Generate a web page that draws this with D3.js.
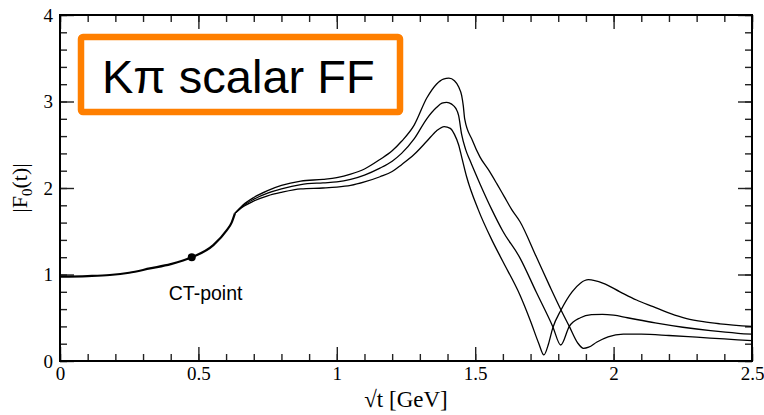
<!DOCTYPE html>
<html>
<head>
<meta charset="utf-8">
<script src="https://cdn.jsdelivr.net/npm/d3@7"></script>
<style>
  body { margin: 0; background: #fff; }
  svg { display: block; }
</style>
</head>
<body>
<svg id="chart" width="764" height="415"></svg>
<script>
// Low-energy part, identical for all three solutions: [sqrt(t) GeV, |F0(t)|].
var commonCurve = [
  [0, 0.975], [0.1, 0.982], [0.18, 0.994], [0.25, 1.02], [0.325, 1.07],
  [0.4, 1.12], [0.476, 1.199], [0.554, 1.34], [0.602, 1.51], [0.62, 1.6],
  [0.632, 1.707]
];

// Above threshold the solutions split (named by their peak height).
var upperCurve = [
  [0.632, 1.707], [0.66, 1.80], [0.7, 1.89], [0.75, 1.97], [0.8, 2.03],
  [0.87, 2.08], [0.95, 2.10], [1.0, 2.12], [1.05, 2.16], [1.1, 2.22],
  [1.156, 2.33], [1.2, 2.43], [1.234, 2.54], [1.28, 2.73], [1.325, 3.04],
  [1.36, 3.20], [1.385, 3.26], [1.405, 3.27], [1.425, 3.24], [1.44, 3.17],
  [1.451, 3.07], [1.457, 2.95], [1.462, 2.80], [1.49, 2.55], [1.517, 2.36],
  [1.55, 2.20], [1.578, 2.05], [1.605, 1.90], [1.632, 1.75], [1.662, 1.61],
  [1.72, 1.21], [1.77, 0.86], [1.81, 0.59], [1.84, 0.40], [1.87, 0.21],
  [1.891, 0.147], [1.91, 0.16], [1.94, 0.22], [1.98, 0.28], [2.035, 0.31],
  [2.1, 0.31], [2.2, 0.295], [2.3, 0.275], [2.4, 0.255], [2.5, 0.235]
];

var centralCurve = [
  [0.632, 1.707], [0.66, 1.79], [0.7, 1.87], [0.75, 1.94], [0.8, 1.99],
  [0.87, 2.04], [0.95, 2.06], [1.0, 2.07], [1.05, 2.10], [1.1, 2.15],
  [1.156, 2.23], [1.2, 2.31], [1.234, 2.40], [1.28, 2.57], [1.325, 2.80],
  [1.36, 2.93], [1.38, 2.98], [1.397, 2.99], [1.415, 2.97], [1.43, 2.92],
  [1.44, 2.84], [1.451, 2.62], [1.465, 2.45], [1.481, 2.32], [1.517, 2.05],
  [1.56, 1.75], [1.6, 1.50], [1.662, 1.19], [1.72, 0.80], [1.78, 0.40],
  [1.809, 0.185], [1.84, 0.40], [1.88, 0.50], [1.92, 0.535], [1.96, 0.54],
  [2.0, 0.53], [2.05, 0.50], [2.15, 0.44], [2.25, 0.39], [2.35, 0.35],
  [2.45, 0.32], [2.5, 0.31]
];

var lowerCurve = [
  [0.632, 1.707], [0.66, 1.78], [0.7, 1.85], [0.75, 1.91], [0.8, 1.95],
  [0.87, 1.99], [0.95, 2.0], [1.0, 2.01], [1.05, 2.03], [1.1, 2.07],
  [1.156, 2.13], [1.2, 2.19], [1.234, 2.27], [1.28, 2.39], [1.325, 2.54],
  [1.36, 2.66], [1.388, 2.71], [1.41, 2.69], [1.425, 2.62], [1.44, 2.50],
  [1.451, 2.36], [1.469, 2.13], [1.511, 1.75], [1.56, 1.40], [1.6, 1.15],
  [1.662, 0.76], [1.70, 0.46], [1.73, 0.20], [1.748, 0.07], [1.765, 0.20],
  [1.78, 0.38], [1.81, 0.59], [1.85, 0.80], [1.88, 0.90], [1.909, 0.94],
  [1.963, 0.898], [2.023, 0.80], [2.083, 0.705], [2.143, 0.628], [2.204, 0.55],
  [2.264, 0.49], [2.324, 0.454], [2.384, 0.43], [2.5, 0.40]
];

var ctPoint = [0.476, 1.199];
var ctLabel = 'CT-point';
var titleText = 'K\u03c0 scalar FF';

var xMajorTicks = [0, 0.5, 1, 1.5, 2, 2.5];
var xTickLabels = ['0', '0.5', '1', '1.5', '2', '2.5'];
var xMinorTicks = d3.range(0, 26).map(function(i) { return i / 10; });
var yMajorTicks = [0, 1, 2, 3, 4];
var yTickLabels = ['0', '1', '2', '3', '4'];
var yMinorTicks = d3.range(0, 21).map(function(i) { return i / 5; });

var margin = {top: 15, right: 12, bottom: 54, left: 60},
    width = 764 - margin.left - margin.right,
    height = 415 - margin.top - margin.bottom;

var serif = '"Liberation Serif", "Times New Roman", serif';
var sans = '"Liberation Sans", Arial, sans-serif';

var svg = d3.select('#chart');
var g = svg.append('g')
    .attr('transform', 'translate(' + margin.left + ',' + margin.top + ')');

var x = d3.scaleLinear().domain([0, 2.5]).range([0, width]);
var y = d3.scaleLinear().domain([0, 4]).range([height, 0]);

function styleAxis(sel) {
  sel.select('.domain').remove();
  sel.selectAll('line').attr('stroke', '#222').attr('stroke-width', 1.4);
  sel.selectAll('text')
      .attr('fill', '#000')
      .style('font-family', serif)
      .style('font-size', '19px');
}

// Minor ticks on all four sides, pointing inward.
g.append('g')
    .attr('transform', 'translate(0,' + height + ')')
    .call(d3.axisBottom(x).tickValues(xMinorTicks).tickSize(-7).tickFormat(''))
    .call(styleAxis);
g.append('g')
    .call(d3.axisTop(x).tickValues(xMinorTicks).tickSize(-7).tickFormat(''))
    .call(styleAxis);
g.append('g')
    .call(d3.axisLeft(y).tickValues(yMinorTicks).tickSize(-7).tickFormat(''))
    .call(styleAxis);
g.append('g')
    .attr('transform', 'translate(' + width + ',0)')
    .call(d3.axisRight(y).tickValues(yMinorTicks).tickSize(-7).tickFormat(''))
    .call(styleAxis);

// Major ticks, labelled on bottom and left only.
g.append('g')
    .attr('transform', 'translate(0,' + height + ')')
    .call(d3.axisBottom(x).tickValues(xMajorTicks).tickSize(-14).tickPadding(6)
      .tickFormat(function(d, i) { return xTickLabels[i]; }))
    .call(styleAxis);
g.append('g')
    .call(d3.axisTop(x).tickValues(xMajorTicks).tickSize(-14).tickFormat(''))
    .call(styleAxis);
g.append('g')
    .call(d3.axisLeft(y).tickValues(yMajorTicks).tickSize(-14).tickPadding(7)
      .tickFormat(function(d, i) { return yTickLabels[i]; }))
    .call(styleAxis);
g.append('g')
    .attr('transform', 'translate(' + width + ',0)')
    .call(d3.axisRight(y).tickValues(yMajorTicks).tickSize(-14).tickFormat(''))
    .call(styleAxis);

// Curves.
var line = d3.line()
    .x(function(d) { return x(d[0]); })
    .y(function(d) { return y(d[1]); })
    .curve(d3.curveMonotoneX);

g.selectAll('path.solution')
    .data([upperCurve, centralCurve, lowerCurve])
  .enter().append('path')
    .attr('class', 'solution')
    .attr('d', line)
    .attr('fill', 'none')
    .attr('stroke', '#000')
    .attr('stroke-width', 1.3);

g.append('path')
    .datum(commonCurve)
    .attr('d', line)
    .attr('fill', 'none')
    .attr('stroke', '#000')
    .attr('stroke-width', 2.2);

g.append('circle')
    .attr('cx', x(ctPoint[0]))
    .attr('cy', y(ctPoint[1]))
    .attr('r', 4)
    .attr('fill', '#000');

g.append('text')
    .attr('x', x(ctPoint[0]) - 23)
    .attr('y', y(ctPoint[1]) + 43)
    .style('font-family', sans)
    .style('font-size', '19.5px')
    .text(ctLabel);

// Frame.
g.append('rect')
    .attr('width', width)
    .attr('height', height)
    .attr('fill', 'none')
    .attr('stroke', '#000')
    .attr('stroke-width', 2);

// Title box.
g.append('rect')
    .attr('x', 21)
    .attr('y', 22)
    .attr('width', 319)
    .attr('height', 75)
    .attr('rx', 2)
    .attr('fill', '#fff')
    .attr('stroke', '#ff7f00')
    .attr('stroke-width', 6.5);

g.append('text')
    .attr('x', 42)
    .attr('y', 78)
    .style('font-family', sans)
    .style('font-size', '47px')
    .text(titleText);

// Axis titles.
svg.append('text')
    .attr('x', margin.left + width / 2)
    .attr('y', 407)
    .attr('text-anchor', 'middle')
    .style('font-family', serif)
    .style('font-size', '23px')
    .text('\u221at [GeV]');

var yTitle = svg.append('text')
    .attr('transform', 'translate(27,' + (margin.top + height / 2) + ') rotate(-90)')
    .attr('text-anchor', 'middle')
    .style('font-family', serif)
    .style('font-size', '22px');
yTitle.append('tspan').text('|F');
yTitle.append('tspan').attr('dy', 5).style('font-size', '15px').text('0');
yTitle.append('tspan').attr('dy', -5).text('(t)|');
</script>
</body>
</html>
